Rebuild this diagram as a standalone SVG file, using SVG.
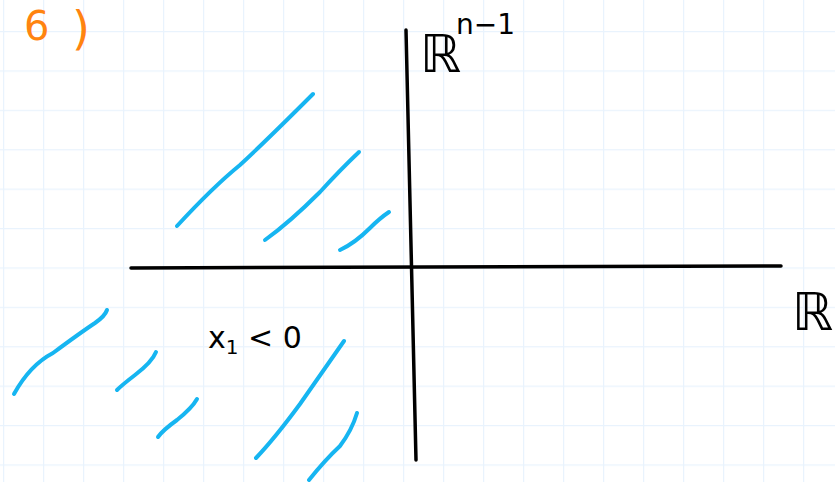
<svg xmlns="http://www.w3.org/2000/svg" width="835" height="482" viewBox="0 0 835 482">
<defs>
<pattern id="grid" x="3" y="31" width="40" height="39.4" patternUnits="userSpaceOnUse">
<path d="M0 0V39.4M0 0H40" fill="none" stroke="#e9f3fd" stroke-width="2.5"/>
</pattern>
<style>
.axis{fill:none;stroke:#000;stroke-width:3.5;stroke-linecap:round}
.hatch{fill:none;stroke:#16b5f1;stroke-width:4;stroke-linecap:round;stroke-linejoin:round}
.hand{font-family:"DejaVu Sans",sans-serif;fill:#000}
.orange{font-family:"DejaVu Sans",sans-serif;fill:#ff8410}
</style>
</defs>
<rect width="835" height="482" fill="#fff"/>
<rect width="835" height="482" fill="url(#grid)"/>
<g id="label-6">
<text class="orange" x="24" y="40" font-size="40">6</text>
<text class="orange" x="72" y="44" font-size="46">)</text>
</g>
<g id="hatching">
<path class="hatch" d="M177 226 Q213 187 240 165 Q267 140 313 94"/>
<path class="hatch" d="M265 240 Q290 222 320 192 Q340 170 359 152"/>
<path class="hatch" d="M340 250 Q355 243 370 228 Q380 218 389 212"/>
<path class="hatch" d="M14 394 Q30 365 53 353 Q80 333 95 323 Q105 316 107 310"/>
<path class="hatch" d="M117 390 Q122 385 135 375 Q152 362 156 352"/>
<path class="hatch" d="M158 437 Q163 430 177 420 Q192 408 197 399"/>
<path class="hatch" d="M256 458 Q275 438 300 404 Q325 368 344 341"/>
<path class="hatch" d="M309 480 Q325 460 340 446 Q352 430 357 413"/>
</g>
<g id="connectors">
<path id="axis-x" class="axis" d="M131 268 L781 266"/>
<path id="axis-y" class="axis" d="M406 30 L416 460"/>
</g>
<g id="label-Rn1">
<text class="hand" x="420" y="72" font-size="52">ℝ</text>
<text class="hand" x="456" y="34" font-size="28">n−1</text>
</g>
<g id="label-R">
<text class="hand" x="792" y="330" font-size="52">ℝ</text>
</g>
<g id="label-x1">
<text class="hand" x="208" y="348" font-size="30">x<tspan font-size="20" dy="6">1</tspan><tspan dy="-6"> &lt; 0</tspan></text>
</g>
</svg>
